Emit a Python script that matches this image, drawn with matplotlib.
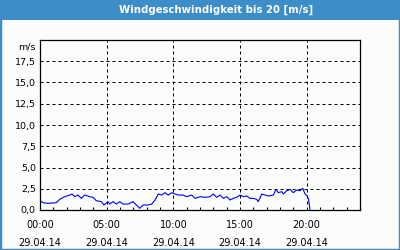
import matplotlib
matplotlib.use("Agg")
import matplotlib.pyplot as plt
from matplotlib.patches import Rectangle

# Stunden seit 00:00 und Windgeschwindigkeit [m/s]
hours = [0.0, 0.23, 0.6, 1.22, 1.48, 1.85, 2.23, 2.4, 2.6, 2.85, 3.1, 3.35, 3.73, 3.98,
         4.22, 4.6, 4.8, 5.1, 5.23, 5.48, 5.72, 5.98, 6.23, 6.6, 6.98, 7.22, 7.48, 7.73,
         8.1, 8.38, 8.63, 8.87, 9.13, 9.38, 9.62, 9.88, 10.13, 10.37, 10.73, 11.0, 11.38,
         11.63, 12.0, 12.38, 12.75, 13.0, 13.25, 13.5, 13.75, 14.0, 14.25, 14.5, 14.75,
         15.0, 15.25, 15.5, 15.75, 16.0, 16.25, 16.37, 16.63, 16.88, 17.12, 17.5, 17.7,
         17.87, 18.13, 18.25, 18.5, 18.75, 19.0, 19.25, 19.5, 19.7, 19.88, 20.05, 20.15,
         20.2, 20.25]
wind = [1.1, 0.86, 0.78, 0.86, 1.26, 1.57, 1.76, 1.88, 1.57, 1.76, 1.37, 1.76, 1.57, 1.49,
        1.09, 0.98, 0.59, 0.98, 0.7, 0.98, 0.7, 0.98, 0.7, 0.7, 0.98, 0.59, 0.2, 0.59,
        0.59, 0.7, 1.18, 1.88, 1.76, 2.04, 1.76, 2.04, 1.88, 1.76, 1.76, 1.57, 1.76,
        1.37, 1.57, 1.49, 1.57, 1.88, 1.49, 1.76, 1.37, 1.57, 1.18, 1.37, 1.49,
        1.76, 1.57, 1.65, 1.37, 1.37, 1.26, 0.98, 1.88, 1.76, 1.65, 1.76, 2.43,
        2.04, 2.16, 1.88, 2.27, 2.43, 2.04, 2.35, 2.27, 2.55, 1.88, 1.65, 1.18,
        0.59, 0.0]

xticks = [0, 5, 10, 15, 20]
xlabels = ["00:00\n29.04.14", "05:00\n29.04.14", "10:00\n29.04.14",
           "15:00\n29.04.14", "20:00\n29.04.14"]
yticks = [0, 2.5, 5, 7.5, 10, 12.5, 15, 17.5]
ylabels = ["0,0", "2,5", "5,0", "7,5", "10,0", "12,5", "15,0", "17,5"]

blue = "#3C8DC8"
bg = "#FBFDFB"

plt.rcParams["font.family"] = "DejaVu Sans"
fig = plt.figure(figsize=(4, 2.5), dpi=100, facecolor=bg)

# Rahmen und Kopfzeile
fig.patches.append(Rectangle((0, 0), 1, 1, transform=fig.transFigure, fill=False,
                             edgecolor=blue, linewidth=2.5, zorder=0))
fig.patches.append(Rectangle((0, 1 - 20 / 250), 1, 20 / 250, transform=fig.transFigure,
                             facecolor=blue, edgecolor="none", zorder=1))
fig.text(0.54, 1 - 10 / 250, "Windgeschwindigkeit bis 20 [m/s]", color="white",
         fontsize=7.3, fontweight="bold", ha="center", va="center")

ax = fig.add_axes([0.1, 0.16, 0.8, 0.68])
ax.set_facecolor(bg)
ax.plot(hours, wind, color="#0000FF", linewidth=0.8)

ax.set_xlim(0, 24)
ax.set_ylim(0, 20)
ax.set_xticks(xticks)
ax.set_xticklabels(xlabels, fontsize=7, linespacing=2.0)
ax.set_xticks(range(0, 25), minor=True)
ax.set_yticks(yticks)
ax.set_yticklabels(ylabels, fontsize=6.8)
ax.tick_params(axis="x", which="major", length=0, pad=7)
ax.tick_params(axis="x", which="minor", direction="in", length=2.2, width=0.8)
ax.tick_params(axis="y", length=0, pad=3)

for x in xticks[1:]:
    ax.axvline(x, color="black", linewidth=0.72, linestyle=(0, (3, 3)))
for y in yticks[1:]:
    ax.axhline(y, color="black", linewidth=0.72, linestyle=(0, (3, 3)))

for s in ax.spines.values():
    s.set_linewidth(0.9)

fig.text(36 / 400, 1 - 47 / 250, "m/s", fontsize=6.8, ha="right", va="center")

fig.savefig("out.png", dpi=100, facecolor=bg)
